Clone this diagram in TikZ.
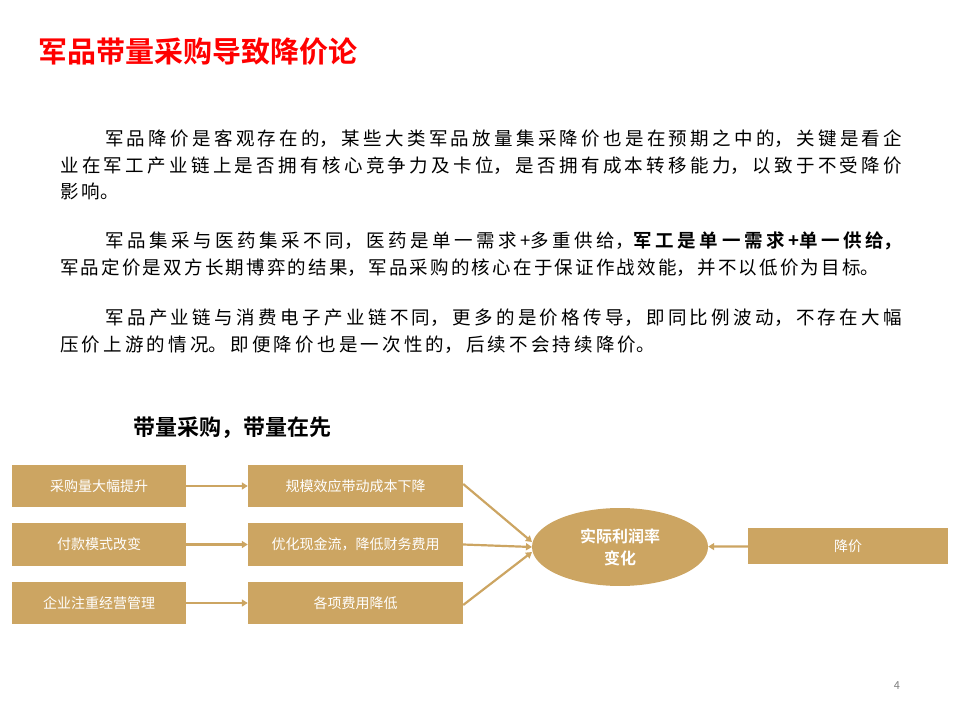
\documentclass[tikz,border=0pt]{standalone}
\usepackage{fontspec}
\usetikzlibrary{shapes.geometric,arrows.meta}
\setmainfont{Noto Sans CJK SC}[BoldFont={Noto Sans CJK SC Bold}]
\XeTeXlinebreaklocale "zh"
\newcommand\widesp{\XeTeXlinebreakskip=3.2pt plus 1.5pt minus 0.3pt\relax}
\newcommand\narrowsp{\XeTeXlinebreakskip=2.2pt plus 1.5pt minus 0.3pt\relax}
\newcommand\smallsp{\XeTeXlinebreakskip=2.5pt plus 0.5pt\relax}
\definecolor{gold}{HTML}{CCA562}
\definecolor{tred}{HTML}{FF0000}
\begin{document}
\begin{tikzpicture}[x=1pt,y=-1pt,
  gbox/.style={draw=none,fill=gold,text=white,font=\fontsize{14}{16}\selectfont,inner sep=0},
  arr/.style={draw=gold,line width=2.2pt,-{Triangle[length=6pt,width=7pt]}},
  para/.style={anchor=north west,text width=842pt,align=justify,inner sep=0,font=\fontsize{18.5}{26.5}\selectfont\widesp}]
\useasboundingbox (0,0) rectangle (959,719);
\node[anchor=west,inner sep=0,text=tred,font=\bfseries\fontsize{29}{32}\selectfont] (title) at (38,52) {军品带量采购导致降价论};
\node[para] (p1) at (60,130) {\hspace*{45pt}军品降价是客观存在的，某些大类军品放量集采降价也是在预期之中的，关键是看企业在军工产业链上是否拥有核心竞争力及卡位，是否拥有成本转移能力，以致于不受降价影响。};
\node[para] (p2) at (60,232) {\hspace*{45pt}军品集采与医药集采不同，医药是单一需求+多重供给，\textbf{军工是单一需求+单一供给，}\linebreak {\narrowsp 军品定价是双方长期博弈的结果，军品采购的核心在于保证作战效能，并不以低价为目标。}};
\node[para] (p3) at (60,309) {\hspace*{45pt}军品产业链与消费电子产业链不同，更多的是价格传导，即同比例波动，不存在大幅压价上游的情况。即便降价也是一次性的，后续不会持续降价。};
\node[anchor=west,inner sep=0,font=\bfseries\fontsize{22}{24}\selectfont\smallsp] (sub) at (133,428) {带量采购，带量在先};
\node[gbox,minimum width=174pt,minimum height=42pt] (a1) at (99,486) {采购量大幅提升};
\node[gbox,minimum width=174pt,minimum height=43pt] (a2) at (99,544.5) {付款模式改变};
\node[gbox,minimum width=174pt,minimum height=42pt] (a3) at (99,603) {企业注重经营管理};
\node[gbox,minimum width=215pt,minimum height=42pt] (b1) at (355.5,486) {规模效应带动成本下降};
\node[gbox,minimum width=215pt,minimum height=43pt] (b2) at (355.5,544.5) {优化现金流，降低财务费用};
\node[gbox,minimum width=215pt,minimum height=42pt] (b3) at (355.5,603) {各项费用降低};
\node[gbox,ellipse,minimum width=176pt,minimum height=78pt,align=center,font=\bfseries\fontsize{16}{22}\selectfont] (e) at (620,547) {实际利润率\\变化};
\node[gbox,minimum width=200pt,minimum height=36pt] (c) at (848,546) {降价};
\draw[arr] (a1) -- (b1);
\draw[arr] (a2) -- (b2);
\draw[arr] (a3) -- (b3);
\draw[arr] (b1.east) ++(0,-2) -- (532,542);
\draw[arr] (b2.east) -- (532,547);
\draw[arr] (b3.east) ++(0,2) -- (532,552);
\draw[arr] (c) -- (e);
\node[text=gray,font=\fontsize{11}{12}\selectfont] (pg) at (897,686) {4};
\end{tikzpicture}
\end{document}
